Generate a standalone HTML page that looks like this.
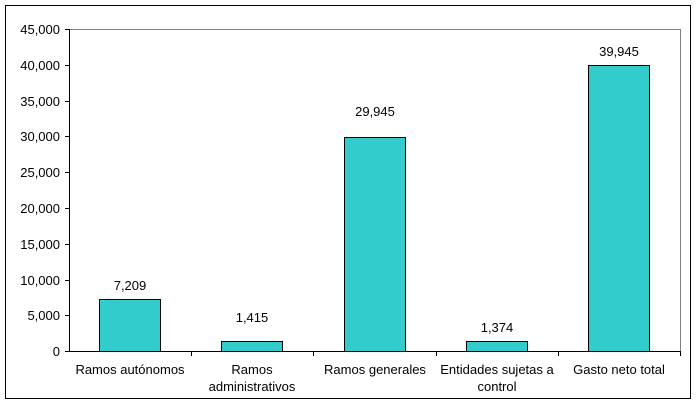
<!DOCTYPE html>
<html><head><style>body{margin:0;background:#fff}svg{display:block}text{font-family:"Liberation Sans",Arial,sans-serif;font-size:13px;fill:#000}</style></head><body>
<svg width="697" height="404" xmlns="http://www.w3.org/2000/svg">
<rect x="5.5" y="5.5" width="685" height="393" fill="#fff" stroke="#000" stroke-width="1"/>
<polyline points="69.5,29.5 680.5,29.5 680.5,351.5" fill="none" stroke="#808080"/>
<g fill="#33CCCC" stroke="#000" stroke-width="1">
<rect x="99.5" y="299.5" width="61" height="52"/>
<rect x="221.5" y="341.5" width="61" height="10"/>
<rect x="344.5" y="137.5" width="61" height="214"/>
<rect x="466.5" y="341.5" width="61" height="10"/>
<rect x="588.5" y="65.5" width="61" height="286"/>
</g>
<g stroke="#000">
<line x1="69.5" y1="29" x2="69.5" y2="352"/>
<line x1="69" y1="351.5" x2="681" y2="351.5"/>
<line x1="65" y1="29.5" x2="69" y2="29.5"/><line x1="65" y1="65.5" x2="69" y2="65.5"/><line x1="65" y1="101.5" x2="69" y2="101.5"/><line x1="65" y1="136.5" x2="69" y2="136.5"/><line x1="65" y1="172.5" x2="69" y2="172.5"/><line x1="65" y1="208.5" x2="69" y2="208.5"/><line x1="65" y1="244.5" x2="69" y2="244.5"/><line x1="65" y1="280.5" x2="69" y2="280.5"/><line x1="65" y1="315.5" x2="69" y2="315.5"/><line x1="65" y1="351.5" x2="69" y2="351.5"/>
<line x1="191.5" y1="351" x2="191.5" y2="356"/><line x1="313.5" y1="351" x2="313.5" y2="356"/><line x1="436.5" y1="351" x2="436.5" y2="356"/><line x1="558.5" y1="351" x2="558.5" y2="356"/><line x1="680.5" y1="351" x2="680.5" y2="356"/>
</g>
<g text-anchor="end">
<text x="60" y="34">45,000</text><text x="60" y="70">40,000</text><text x="60" y="106">35,000</text><text x="60" y="141">30,000</text><text x="60" y="177">25,000</text><text x="60" y="213">20,000</text><text x="60" y="249">15,000</text><text x="60" y="285">10,000</text><text x="60" y="320">5,000</text><text x="60" y="356">0</text>
</g>
<g text-anchor="middle">
<text x="130" y="290">7,209</text><text x="252" y="322">1,415</text><text x="375" y="116">29,945</text><text x="497" y="332">1,374</text><text x="619" y="56">39,945</text>
<text x="130" y="374">Ramos autónomos</text>
<text x="252" y="374">Ramos</text><text x="252" y="391">administrativos</text>
<text x="375" y="374">Ramos generales</text>
<text x="497" y="374">Entidades sujetas a</text><text x="497" y="391">control</text>
<text x="619" y="374">Gasto neto total</text>
</g>
</svg>
</body></html>
